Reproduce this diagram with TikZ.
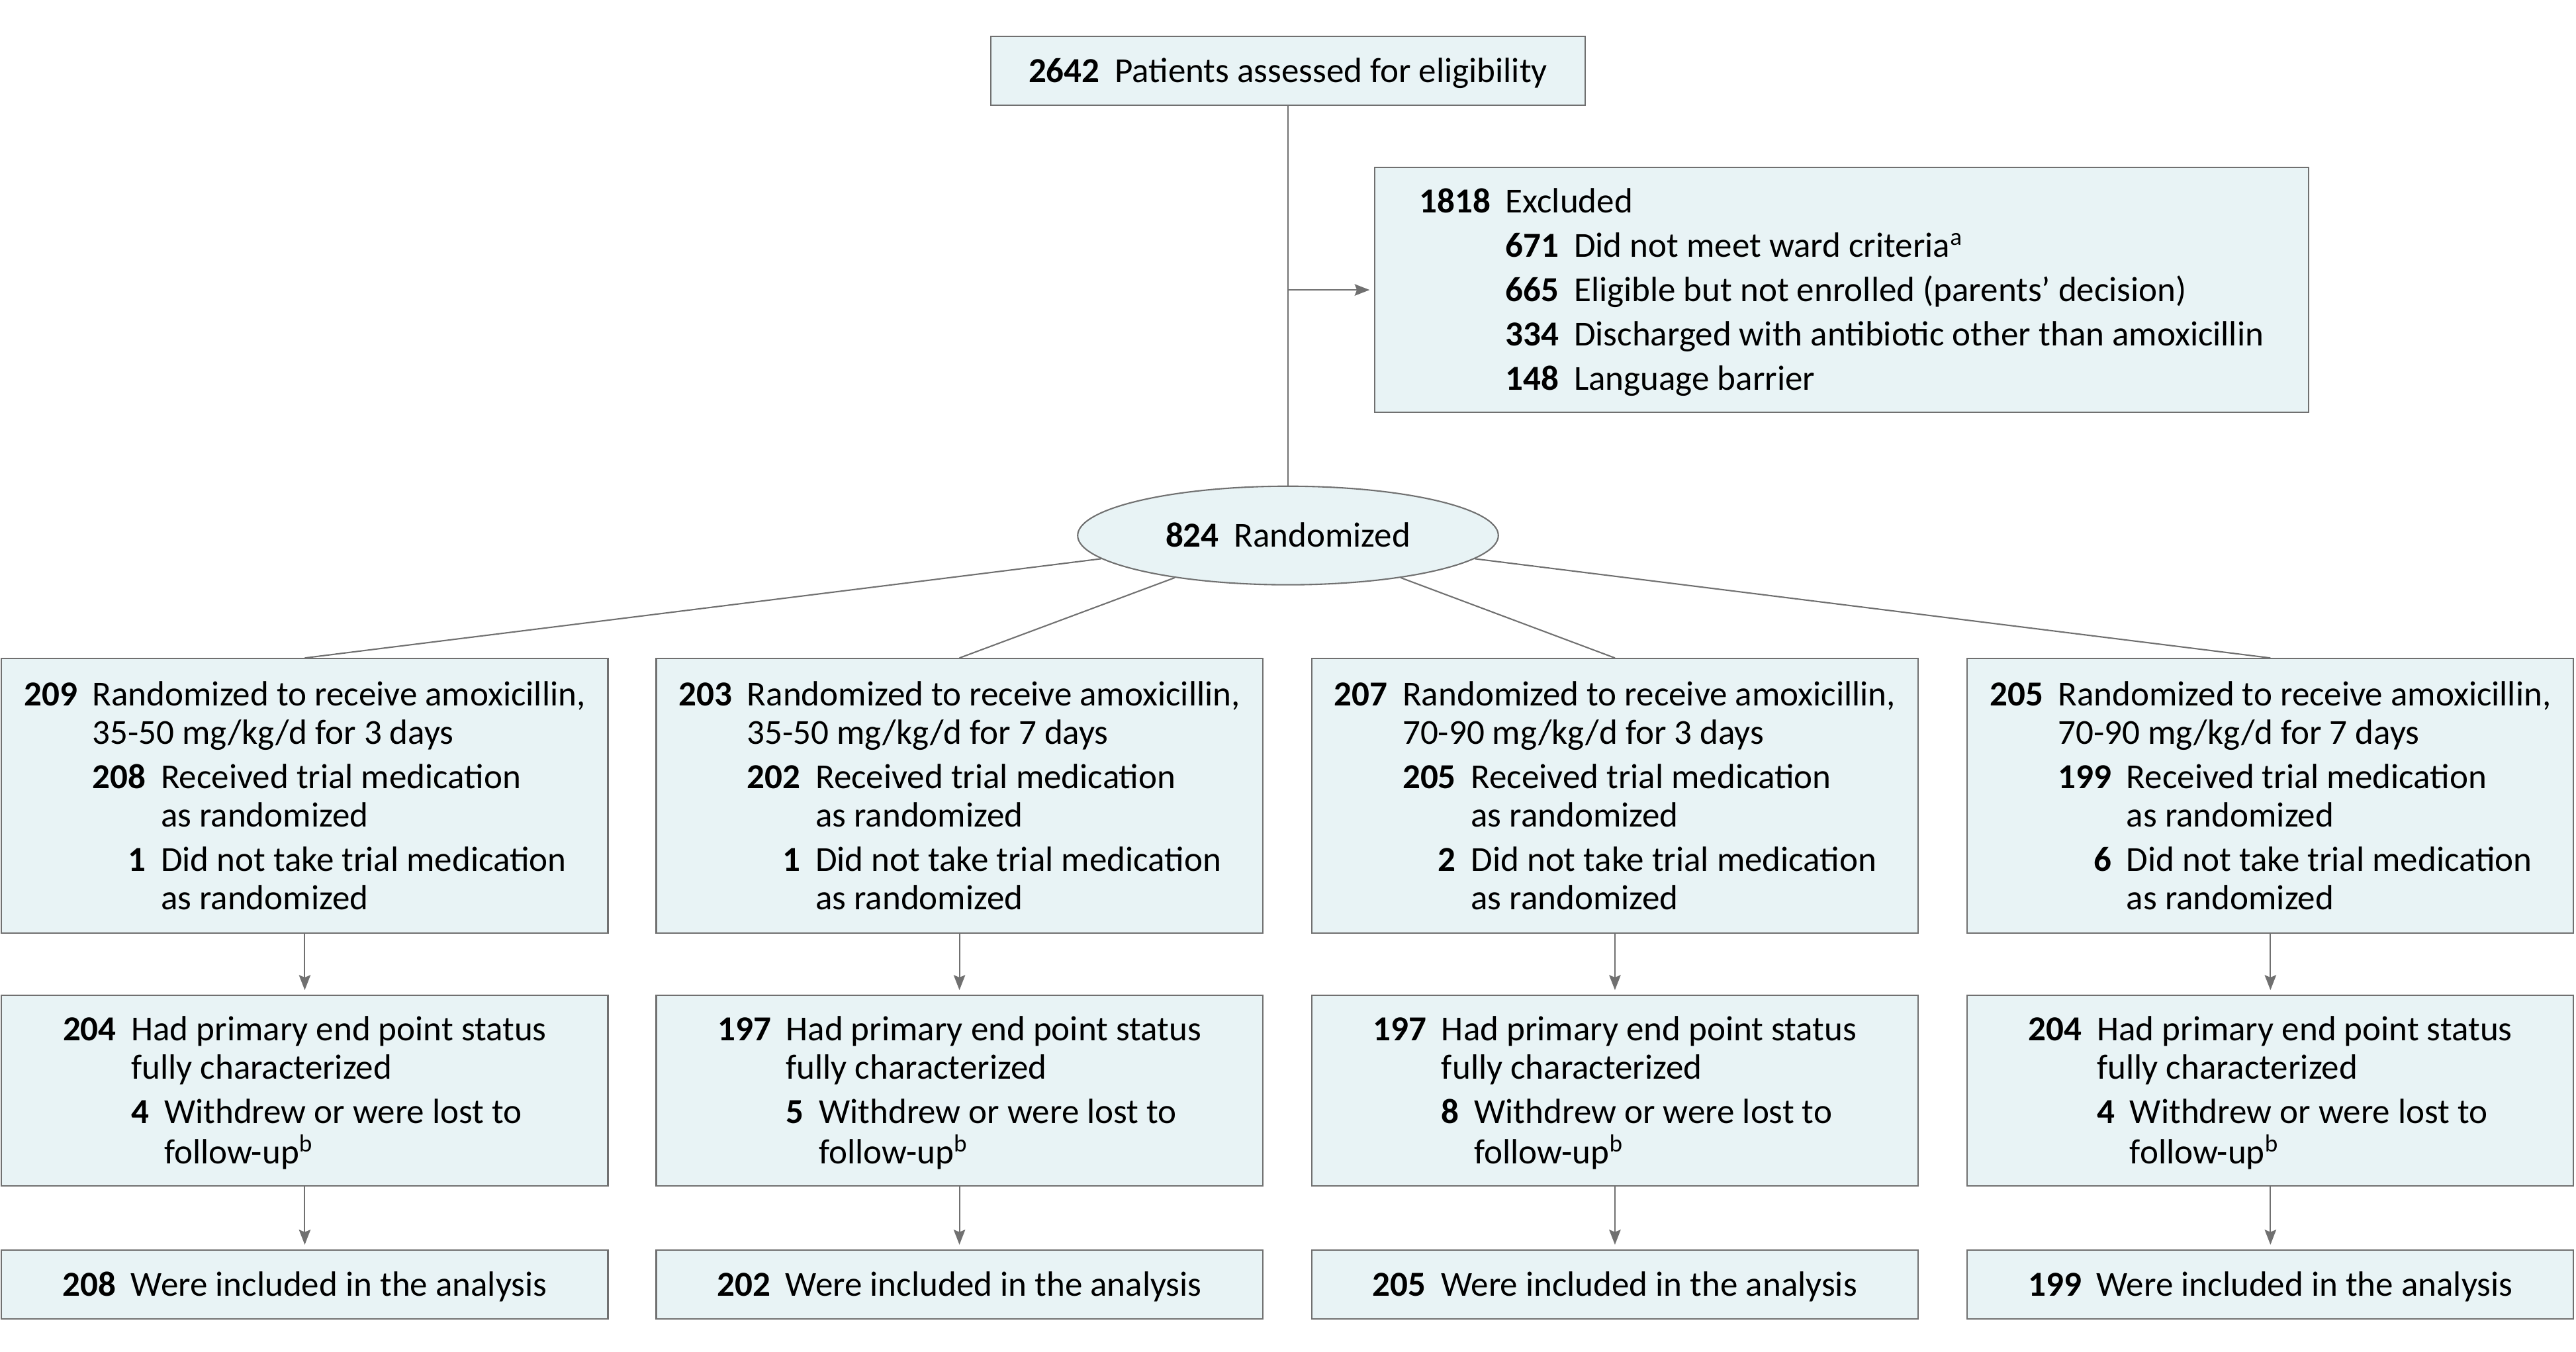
\documentclass[tikz,border=0pt]{standalone}
\usepackage{fontspec}
\setmainfont{Carlito}
\usetikzlibrary{shapes,arrows.meta,positioning}
\definecolor{boxfill}{RGB}{232,243,245}
\definecolor{linegray}{RGB}{112,112,112}
\newenvironment{flowtab}{\begin{tabular}{@{}r@{\hspace{6.5pt}}r@{\hspace{6.5pt}}l@{}}\noalign{\vskip 3.4pt}}{\end{tabular}}
\newcommand{\spanrow}[1]{\multicolumn{2}{@{}l@{}}{#1}}

\begin{document}
\begin{tikzpicture}[
    x=0.025cm, y=-0.025cm,
    box/.style={draw=linegray, fill=boxfill, line width=0.6pt, rectangle, inner sep=0pt, font=\fontsize{15.2}{16.65}\selectfont},
    oneline/.style={text height=12pt, text depth=2pt},
    armbox/.style={box, minimum width=9.225cm},
    line/.style={draw=linegray, line width=0.6pt},
    arrow/.style={line, -{Stealth[length=6.5pt, width=5pt, inset=1pt]}, shorten >=2pt}
]
\useasboundingbox (0,0) rectangle (1568,823);

% Enrollment
\node[box, oneline, minimum width=9.05cm, minimum height=1.05cm] (assessed) at (784,43) {\textbf{2642}\hspace{6.5pt}Patients assessed for eligibility};

\node[box, minimum width=14.2cm, minimum height=3.725cm] (excluded) at (1121,176.5) {
\begin{flowtab}
\textbf{1818} & \spanrow{Excluded}\\[2.5pt]
 & \textbf{671} & Did not meet ward criteria\textsuperscript{a}\\[2.5pt]
 & \textbf{665} & Eligible but not enrolled (parents’ decision)\\[2.5pt]
 & \textbf{334} & Discharged with antibiotic other than amoxicillin\\[2.5pt]
 & \textbf{148} & Language barrier
\end{flowtab}};

\node[box, oneline, ellipse, minimum width=6.4cm, minimum height=1.5cm] (randomized) at (784,326) {\textbf{824}\hspace{6.5pt}Randomized};

\draw[line] (assessed) -- (randomized);
\coordinate (split) at (assessed.south |- excluded.west);
\draw[arrow] (split) -- (excluded);

% Allocation
\node[armbox, minimum height=4.175cm] (alloc_a) at (185.5,484.5) {
\begin{flowtab}
\textbf{209} & \spanrow{Randomized to receive amoxicillin,}\\
 & \spanrow{35-50 mg/kg/d for 3 days}\\[2.5pt]
 & \textbf{208} & Received trial medication\\
 & & as randomized\\[2.5pt]
 & \textbf{1} & Did not take trial medication\\
 & & as randomized
\end{flowtab}};

\node[armbox, minimum height=4.175cm] (alloc_b) at (584,484.5) {
\begin{flowtab}
\textbf{203} & \spanrow{Randomized to receive amoxicillin,}\\
 & \spanrow{35-50 mg/kg/d for 7 days}\\[2.5pt]
 & \textbf{202} & Received trial medication\\
 & & as randomized\\[2.5pt]
 & \textbf{1} & Did not take trial medication\\
 & & as randomized
\end{flowtab}};

\node[armbox, minimum height=4.175cm] (alloc_c) at (983,484.5) {
\begin{flowtab}
\textbf{207} & \spanrow{Randomized to receive amoxicillin,}\\
 & \spanrow{70-90 mg/kg/d for 3 days}\\[2.5pt]
 & \textbf{205} & Received trial medication\\
 & & as randomized\\[2.5pt]
 & \textbf{2} & Did not take trial medication\\
 & & as randomized
\end{flowtab}};

\node[armbox, minimum height=4.175cm] (alloc_d) at (1382,484.5) {
\begin{flowtab}
\textbf{205} & \spanrow{Randomized to receive amoxicillin,}\\
 & \spanrow{70-90 mg/kg/d for 7 days}\\[2.5pt]
 & \textbf{199} & Received trial medication\\
 & & as randomized\\[2.5pt]
 & \textbf{6} & Did not take trial medication\\
 & & as randomized
\end{flowtab}};

\draw[line] (randomized) -- (alloc_a.north);
\draw[line] (randomized) -- (alloc_b.north);
\draw[line] (randomized) -- (alloc_c.north);
\draw[line] (randomized) -- (alloc_d.north);

% Follow-up
\node[armbox, minimum height=2.9cm] (followup_a) at (185.5,664) {
\begin{flowtab}
\textbf{204} & \spanrow{Had primary end point status}\\
 & \spanrow{fully characterized}\\[2.5pt]
 & \textbf{4} & Withdrew or were lost to\\
 & & follow-up\textsuperscript{b}
\end{flowtab}};

\node[armbox, minimum height=2.9cm] (followup_b) at (584,664) {
\begin{flowtab}
\textbf{197} & \spanrow{Had primary end point status}\\
 & \spanrow{fully characterized}\\[2.5pt]
 & \textbf{5} & Withdrew or were lost to\\
 & & follow-up\textsuperscript{b}
\end{flowtab}};

\node[armbox, minimum height=2.9cm] (followup_c) at (983,664) {
\begin{flowtab}
\textbf{197} & \spanrow{Had primary end point status}\\
 & \spanrow{fully characterized}\\[2.5pt]
 & \textbf{8} & Withdrew or were lost to\\
 & & follow-up\textsuperscript{b}
\end{flowtab}};

\node[armbox, minimum height=2.9cm] (followup_d) at (1382,664) {
\begin{flowtab}
\textbf{204} & \spanrow{Had primary end point status}\\
 & \spanrow{fully characterized}\\[2.5pt]
 & \textbf{4} & Withdrew or were lost to\\
 & & follow-up\textsuperscript{b}
\end{flowtab}};

\draw[arrow] (alloc_a) -- (followup_a);
\draw[arrow] (alloc_b) -- (followup_b);
\draw[arrow] (alloc_c) -- (followup_c);
\draw[arrow] (alloc_d) -- (followup_d);

% Analysis
\node[armbox, oneline, minimum height=1.05cm] (analysis_a) at (185.5,782) {\textbf{208}\hspace{6.5pt}Were included in the analysis};
\node[armbox, oneline, minimum height=1.05cm] (analysis_b) at (584,782) {\textbf{202}\hspace{6.5pt}Were included in the analysis};
\node[armbox, oneline, minimum height=1.05cm] (analysis_c) at (983,782) {\textbf{205}\hspace{6.5pt}Were included in the analysis};
\node[armbox, oneline, minimum height=1.05cm] (analysis_d) at (1382,782) {\textbf{199}\hspace{6.5pt}Were included in the analysis};

\draw[arrow] (followup_a) -- (analysis_a);
\draw[arrow] (followup_b) -- (analysis_b);
\draw[arrow] (followup_c) -- (analysis_c);
\draw[arrow] (followup_d) -- (analysis_d);

\end{tikzpicture}
\end{document}
